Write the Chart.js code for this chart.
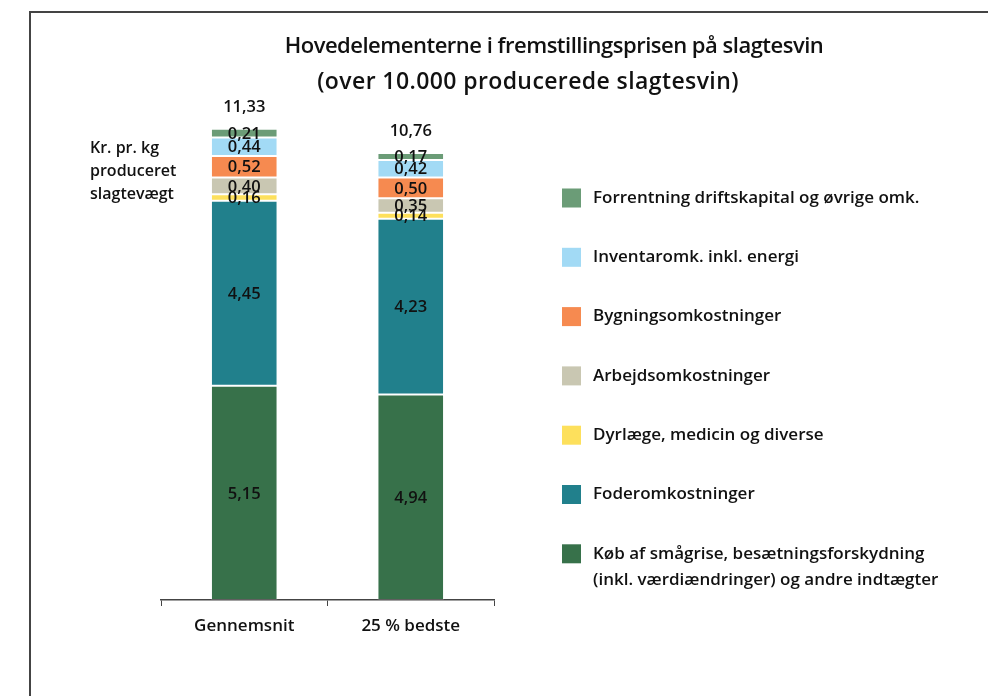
<!DOCTYPE html>
<html>
<head>
<meta charset="utf-8">
<script src="https://cdn.jsdelivr.net/npm/chart.js@4/dist/chart.umd.min.js"></script>
<style>
  html, body { margin: 0; padding: 0; background: #fff; }
  #wrap { position: absolute; left: 0; top: 0; width: 988px; height: 696px; }
</style>
</head>
<body>
<div id="wrap"><canvas id="c" width="988" height="696"></canvas></div>
<script>
// ---- data ----
const categories = ['Gennemsnit', '25 % bedste'];
const seriesNames = [
  'Køb af smågrise, besætningsforskydning',
  'Foderomkostninger',
  'Dyrlæge, medicin og diverse',
  'Arbejdsomkostninger',
  'Bygningsomkostninger',
  'Inventaromk. inkl. energi',
  'Forrentning driftskapital og øvrige omk.'
];
const kobValues        = [5.15, 4.94];
const foderValues      = [4.45, 4.23];
const dyrlaegeValues   = [0.16, 0.14];
const arbejdValues     = [0.40, 0.35];
const bygningValues    = [0.52, 0.50];
const inventarValues   = [0.44, 0.42];
const forrentValues    = [0.21, 0.17];
const totalLabels      = ['11,33', '10,76'];
const legendExtraLine  = '(inkl. værdiændringer) og andre indtægter';
const unitLabel        = ['Kr. pr. kg', 'produceret', 'slagtevægt'];
const titleLines       = ['Hovedelementerne i fremstillingsprisen på slagtesvin', '(over 10.000 producerede slagtesvin)'];

const colors = ['#37714a', '#21808c', '#fde05c', '#c9c7b2', '#f68a50', '#a2daf5', '#6b9c77'];
const valueSets = [kobValues, foderValues, dyrlaegeValues, arbejdValues, bygningValues, inventarValues, forrentValues];

const FONT = '"Open Sans", "Noto Sans", sans-serif';

const datasets = valueSets.map((vals, i) => ({
  label: seriesNames[i],
  data: vals,
  backgroundColor: colors[i],
  borderColor: 'rgba(255,255,255,0.15)',
  borderWidth: 1,
  borderSkipped: false,
  stack: 's'
}));

const decorPlugin = {
  id: 'decor',
  afterDraw(chart) {
    const ctx = chart.ctx;
    ctx.save();
    // frame
    ctx.strokeStyle = '#444';
    ctx.lineWidth = 2;
    ctx.beginPath();
    ctx.moveTo(30, 700);
    ctx.lineTo(30, 12);
    ctx.lineTo(990, 12);
    ctx.stroke();

    // title
    ctx.fillStyle = '#111';
    ctx.textAlign = 'center';
    ctx.textBaseline = 'middle';
    ctx.font = '600 22px ' + FONT;
    ctx.letterSpacing = '-0.5px';
    ctx.fillText(titleLines[0], 554, 47);
    ctx.font = '600 23px ' + FONT;
    ctx.letterSpacing = '0.4px';
    ctx.fillText(titleLines[1], 528, 82);
    ctx.letterSpacing = '0px';

    // unit label
    ctx.textAlign = 'left';
    ctx.font = '600 16px ' + FONT;
    unitLabel.forEach((t, i) => ctx.fillText(t, 90, 148 + i * 23));

    // segment value labels
    ctx.textAlign = 'center';
    ctx.font = '600 16.5px ' + FONT;
    chart.data.datasets.forEach((ds, di) => {
      const meta = chart.getDatasetMeta(di);
      meta.data.forEach((bar, bi) => {
        const v = ds.data[bi];
        const yc = (bar.y + bar.base) / 2;
        ctx.fillText(v.toFixed(2).replace('.', ','), bar.x, yc + 1);
      });
    });

    // totals
    const topMeta = chart.getDatasetMeta(chart.data.datasets.length - 1);
    topMeta.data.forEach((bar, bi) => {
      ctx.fillText(totalLabels[bi], bar.x, bar.y - 22);
    });

    // legend (reverse order)
    ctx.textAlign = 'left';
    ctx.font = '600 17px ' + FONT;
    const n = seriesNames.length;
    for (let k = 0; k < n; k++) {
      const si = n - 1 - k;
      const yc = 198 + k * 59.3;
      ctx.fillStyle = colors[si];
      ctx.fillRect(562, yc - 9.5, 19, 19);
      ctx.fillStyle = '#111';
      ctx.fillText(seriesNames[si], 593, yc);
      if (si === 0) ctx.fillText(legendExtraLine, 593, yc + 26);
    }
    ctx.restore();
  }
};

new Chart(document.getElementById('c'), {
  type: 'bar',
  data: { labels: categories, datasets },
  options: {
    responsive: false,
    devicePixelRatio: 1,
    animation: false,
    layout: { padding: { left: 161, right: 494, top: 101, bottom: 51 } },
    plugins: { legend: { display: false }, tooltip: { enabled: false }, title: { display: false } },
    datasets: { bar: { categoryPercentage: 1.0, barPercentage: 0.4 } },
    scales: {
      x: {
        stacked: true,
        offset: true,
        grid: { display: true, drawOnChartArea: false, drawTicks: true, tickLength: 6, color: '#444', offset: true },
        border: { display: true, color: '#444', width: 1.5 },
        ticks: { color: '#111', font: { family: FONT, size: 17, weight: '600' }, padding: 10 },
        afterFit(scale) { scale.height = 45; }
      },
      y: {
        stacked: true,
        display: false,
        min: 0,
        max: 12
      }
    }
  },
  plugins: [decorPlugin]
});
</script>
</body>
</html>
